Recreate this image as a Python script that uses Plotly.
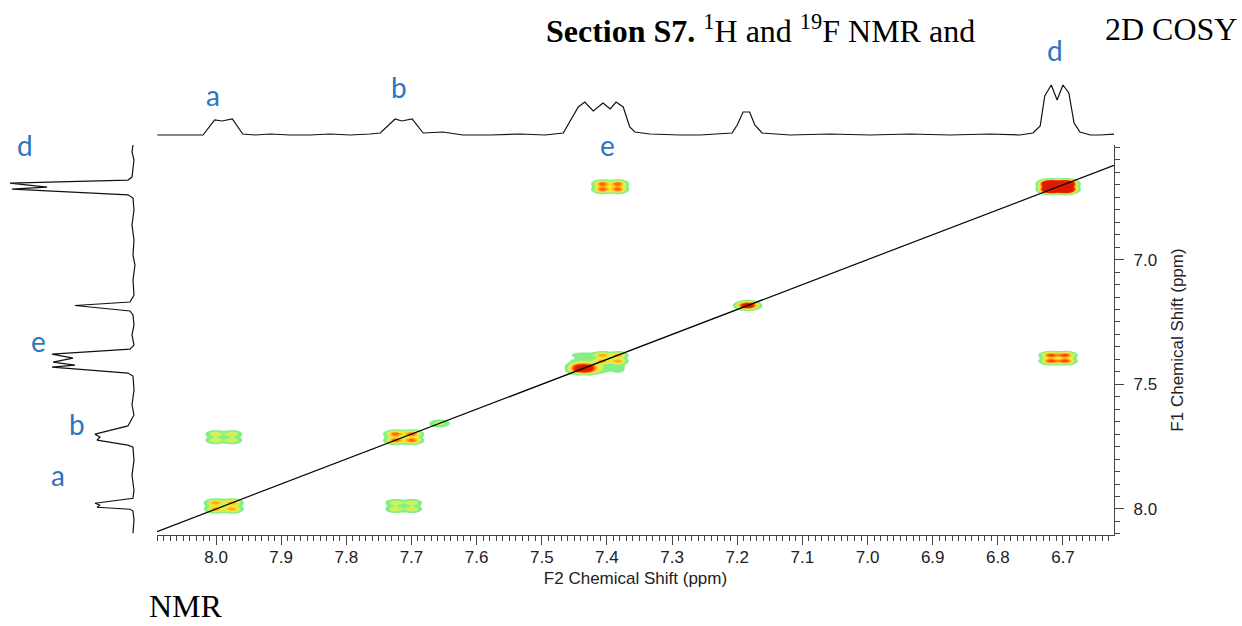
import numpy as np
import plotly.graph_objects as go

# ---------------- data ----------------
# top projection (F2): ppm, relative intensity
top_ppm = [8.090, 8.071, 8.040, 8.020, 8.002, 7.991, 7.975, 7.959, 7.940, 7.917, 7.886, 7.856,
           7.825, 7.794, 7.764, 7.748, 7.725, 7.715, 7.699, 7.682, 7.652, 7.621, 7.579, 7.533,
           7.495, 7.467, 7.444, 7.434, 7.421, 7.406, 7.395, 7.386, 7.375, 7.365, 7.357, 7.334,
           7.288, 7.257, 7.208, 7.200, 7.191, 7.181, 7.173, 7.162, 7.119, 7.058, 6.996, 6.935,
           6.873, 6.812, 6.766, 6.746, 6.735, 6.728, 6.718, 6.709, 6.700, 6.691, 6.683, 6.674,
           6.658, 6.643, 6.620]
top_int = [0.00, 0.00, 0.00, 0.00, 0.30, 0.28, 0.32, 0.02, 0.00, 0.02, 0.00, 0.00,
           0.02, 0.00, 0.02, 0.04, 0.32, 0.28, 0.32, 0.04, 0.06, 0.00, 0.00, 0.02,
           0.00, 0.04, 0.56, 0.66, 0.48, 0.64, 0.52, 0.66, 0.56, 0.16, 0.06, 0.02,
           0.00, 0.00, 0.04, 0.20, 0.46, 0.46, 0.20, 0.04, 0.00, 0.02, 0.00, 0.02,
           0.00, 0.02, 0.00, 0.04, 0.18, 0.78, 1.00, 0.70, 1.00, 0.84, 0.24, 0.06,
           0.00, 0.00, 0.02]

# left projection (F1): ppm, relative intensity
left_ppm = [6.540, 6.568, 6.600, 6.633, 6.669, 6.681, 6.693, 6.709, 6.717, 6.740, 6.753,
            6.801, 6.861, 6.921, 6.982, 7.022, 7.082, 7.142, 7.170, 7.184, 7.206, 7.222,
            7.262, 7.302, 7.343, 7.359, 7.379, 7.395, 7.411, 7.423, 7.431, 7.455, 7.467,
            7.523, 7.583, 7.623, 7.667, 7.700, 7.712, 7.724, 7.744, 7.752, 7.804, 7.865,
            7.925, 7.957, 7.977, 7.985, 7.993, 8.001, 8.008, 8.044, 8.097]
left_int = [0.000, 0.008, -0.008, 0.000, 0.008, 0.041, 1.000, 0.699, 0.984, 0.041, 0.000,
            -0.008, 0.008, -0.008, 0.000, -0.016, 0.000, -0.008, 0.024, 0.472, 0.024, 0.000,
            -0.008, 0.008, -0.008, 0.024, 0.659, 0.488, 0.650, 0.472, 0.659, 0.041, 0.000,
            -0.008, 0.008, -0.008, 0.041, 0.309, 0.268, 0.293, 0.041, 0.000, -0.008, 0.008,
            -0.008, 0.000, 0.309, 0.268, 0.293, 0.024, 0.000, -0.008, 0.000]

# spin systems: multiplet line positions (ppm) and line widths (ppm)
spin_names = ["a", "b", "s", "c", "e1", "e2", "d"]
spin_lines = [[8.001, 7.975], [7.725, 7.699], [7.657], [7.184],
              [7.444, 7.428], [7.407, 7.383], [6.719, 6.696]]
spin_width = [0.0085, 0.0085, 0.0095, 0.0092, 0.009, 0.0078, 0.0085]

# COSY peaks: F2 spin, F1 spin, intensity
peak_f2 = ["a", "b", "s", "c", "e1", "e2", "e1", "e2", "d", "a", "b", "e2", "d"]
peak_f1 = ["a", "b", "s", "c", "e1", "e2", "e2", "e1", "d", "b", "a", "d", "e2"]
peak_int = [0.45, 0.55, 0.2, 1.0, 1.0, 0.45, 0.12, 0.12, 2.2, 0.25, 0.25, 0.55, 0.6]

# axis limits (ppm)
f2_range = [8.0906, 6.6217]
f1_range = [8.1043, 6.5403]

# ---------------- 2D map ----------------
gx = np.arange(6.60, 8.11, 0.0025)
gy = np.arange(6.52, 8.12, 0.003)

def shape(grid, lines, w):
    g = np.zeros_like(grid)
    for l in lines:
        g += np.exp(-0.5 * ((grid - l) / w) ** 2)
    return g / g.max()

spin = {n: (ln, w) for n, ln, w in zip(spin_names, spin_lines, spin_width)}
z = np.zeros((gy.size, gx.size))
for s2, s1, amp in zip(peak_f2, peak_f1, peak_int):
    fx = shape(gx, *spin[s2])
    fy = shape(gy, *spin[s1])
    z += amp * np.outer(fy, fx)
z = z.astype(np.float32)

cols = ["rgba(255,255,255,0)", "#86ee86", "#cdf25e", "#f5e52e", "#ffae1a",
        "#ff6a10", "#f23a0c", "#e01a00"]
cs = []
n = len(cols) - 1
edges = [0] + [(i + 0.5) / n for i in range(n)] + [1]
for i, c in enumerate(cols):
    cs.append([edges[i], c])
    cs.append([edges[i + 1], c])

fig = go.Figure()
fig.add_trace(go.Contour(
    x=gx, y=gy, z=z, colorscale=cs, zmin=0, zmax=0.7, zauto=False,
    contours=dict(start=0.05, end=0.65, size=0.1, coloring="fill", showlines=False),
    line=dict(width=0), showscale=False, hoverinfo="skip", xaxis="x", yaxis="y"))

fig.add_trace(go.Scatter(x=f2_range, y=f2_range, mode="lines",
                         line=dict(color="black", width=1.2), xaxis="x", yaxis="y",
                         hoverinfo="skip"))

fig.add_trace(go.Scatter(x=top_ppm, y=top_int, mode="lines",
                         line=dict(color="#111111", width=1.2), xaxis="x2", yaxis="y2"))
fig.add_trace(go.Scatter(x=left_int, y=left_ppm, mode="lines",
                         line=dict(color="#111111", width=1.2), xaxis="x3", yaxis="y3"))

W, H = 1242, 626
px = lambda v: v / W
py = lambda v: 1 - v / H

tickfont = dict(family="Liberation Sans, Arial", size=17, color="#222222")
fig.update_layout(
    width=W, height=H, margin=dict(l=0, r=0, t=0, b=0),
    paper_bgcolor="white", plot_bgcolor="rgba(0,0,0,0)", showlegend=False,
    xaxis=dict(domain=[px(157), px(1114)], range=f2_range, anchor="y",
               showline=True, linecolor="#444444", linewidth=1.2, showgrid=False, zeroline=False,
               ticks="outside", ticklen=9, tickwidth=1.2, tickcolor="#444444",
               tick0=8.0, dtick=0.1, tickformat=".1f", tickfont=tickfont, ticklabelstandoff=-3,
               minor=dict(dtick=0.01, ticklen=5, tickcolor="#444444", ticks="outside", showgrid=False),
               title=dict(text="F2 Chemical Shift (ppm)", font=tickfont, standoff=6)),
    yaxis=dict(domain=[py(535), py(145)], range=f1_range, anchor="x", side="right",
               showline=True, linecolor="#444444", linewidth=1.2, showgrid=False, zeroline=False,
               ticks="outside", ticklen=9, tickwidth=1.2, tickcolor="#444444",
               tick0=7.0, dtick=0.5, tickformat=".1f", tickfont=tickfont, ticklabelstandoff=6,
               minor=dict(dtick=0.05, ticklen=5, tickcolor="#444444", ticks="outside", showgrid=False),
               title=dict(text="F1 Chemical Shift (ppm)", font=tickfont, standoff=14)),
    xaxis2=dict(domain=[px(157), px(1114)], range=f2_range, anchor="y2", visible=False),
    yaxis2=dict(domain=[py(140), py(80)], range=[-0.1, 1.1], anchor="x2", visible=False),
    xaxis3=dict(domain=[px(5), px(140)], range=[1.041, -0.057], anchor="y3", visible=False),
    yaxis3=dict(domain=[py(535), py(145)], range=f1_range, anchor="x3", visible=False),
)

blue = "#2f74be"
lab_font = dict(family="Lato, Open Sans", size=28, color=blue)
labels = [("a", 213, 95), ("b", 399, 87), ("e", 607, 145), ("d", 1055, 50),
          ("d", 25, 145), ("e", 38, 341), ("b", 77, 424), ("a", 58, 475)]
for t, x, y in labels:
    fig.add_annotation(text=t, x=px(x), y=py(y), xref="paper", yref="paper",
                       showarrow=False, font=lab_font, xanchor="center", yanchor="middle")

serif = dict(family="Liberation Serif, Times New Roman", size=32, color="black")
fig.add_annotation(text="<b>Section S7.</b> <sup>1</sup>H and <sup>19</sup>F NMR and",
                   x=px(544), y=py(29), xref="paper", yref="paper", showarrow=False,
                   font=serif, xanchor="left", yanchor="middle")
fig.add_annotation(text="2D COSY", x=px(1239), y=py(29), xref="paper", yref="paper",
                   showarrow=False, font=serif, xanchor="right", yanchor="middle")
fig.add_annotation(text="NMR", x=px(147), y=0, xref="paper", yref="paper",
                   showarrow=False, font=serif, xanchor="left", yanchor="bottom")

fig.write_html("out.html")
